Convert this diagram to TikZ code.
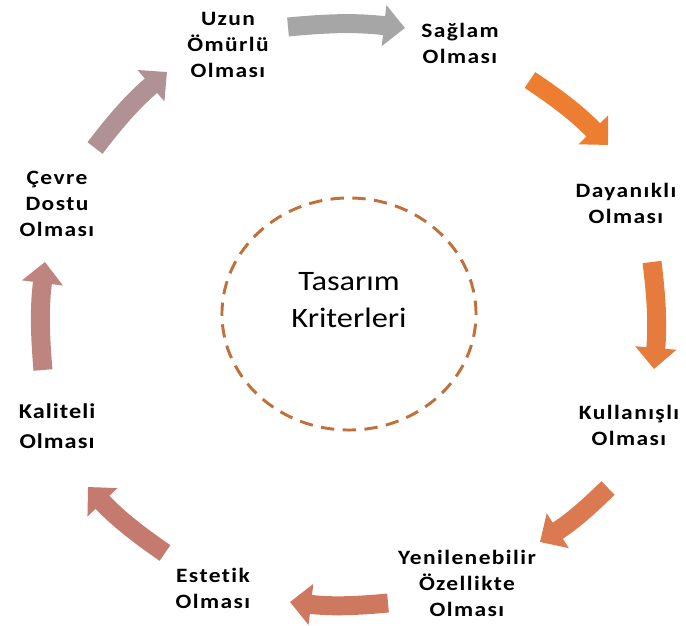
\documentclass[tikz,border=0pt]{standalone}
\usepackage{fontspec}
\setmainfont{Carlito}[FakeStretch=1.15,Ligatures=NoCommon]
\usetikzlibrary{arrows.meta,shapes.geometric}
\definecolor{okA}{RGB}{166,166,166}
\definecolor{okB}{RGB}{237,125,49}
\definecolor{okC}{RGB}{229,123,60}
\definecolor{okD}{RGB}{219,122,80}
\definecolor{okE}{RGB}{206,120,95}
\definecolor{okF}{RGB}{196,122,110}
\definecolor{okG}{RGB}{190,132,128}
\definecolor{okH}{RGB}{176,146,149}
\definecolor{halka}{RGB}{192,112,58}
\tikzset{
  lbl/.style={align=center, font=\fontsize{14.5}{18.5}\selectfont\bfseries\addfontfeature{LetterSpace=7}},
  okstil/.style={line width=13.5pt, -{Triangle[width=28.5pt,length=15pt]}},
  ring/.style={ellipse, draw=halka, line width=2.1pt, dash pattern=on 9.5pt off 6pt, minimum width=6.35cm, minimum height=5.8cm}
}
\begin{document}
\begin{tikzpicture}[x=0.025cm,y=0.025cm]
\useasboundingbox (-347,-312) rectangle (339,314);
\node[ring] (merkez) at (2,0) {};
\node[align=center, font=\fontsize{20}{26}\selectfont] (baslik) at (2,14) {Tasarım\\Kriterleri};
\node[lbl] (uzun) at (-119,269) {Uzun\\Ömürlü\\Olması};
\node[lbl] (saglam) at (113,271) {Sağlam\\Olması};
\node[lbl] (dayanikli) at (279,111) {Dayanıklı\\Olması};
\node[lbl] (kullanisli) at (282,-111) {Kullanışlı\\Olması};
\node[lbl] (yenilenebilir) at (120,-269) {Yenilenebilir\\Özellikte\\Olması};
\node[lbl] (estetik) at (-134,-274) {Estetik\\Olması};
\node[lbl, font=\fontsize{15}{21}\selectfont\bfseries\addfontfeature{LetterSpace=5}] (kaliteli) at (-290,-112) {Kaliteli\\Olması};
\node[lbl] (cevre) at (-290,110) {Çevre\\Dostu\\Olması};
\foreach \s/\e/\c [count=\i] in {{-59,287}/{58,286}/okA, {183,234}/{261,169}/okB, {305,52}/{307,-55}/okC, {261,-174}/{193,-228}/okD, {41,-289}/{-57,-288}/okE, {-182,-239}/{-259,-173}/okF, {-304,-56}/{-302,52}/okG, {-252,166}/{-180,242}/okH}{
    \coordinate (s\i) at (\s);
    \coordinate (e\i) at (\e);
    \draw[okstil, draw=\c] (s\i) to[bend left=6] (e\i);
}
\end{tikzpicture}
\end{document}
